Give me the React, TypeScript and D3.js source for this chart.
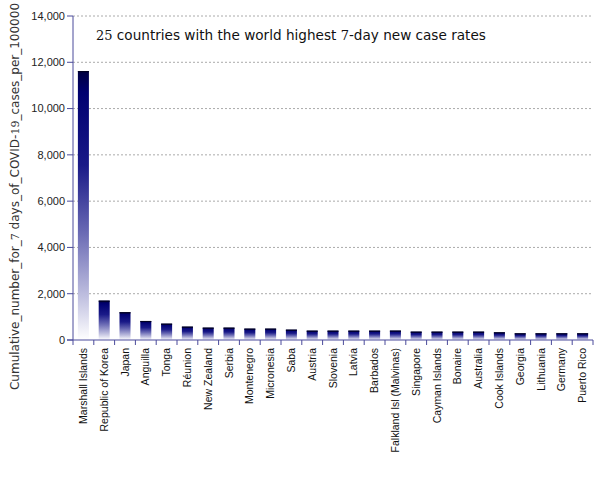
import React from "react";
import * as d3 from "d3";

const countries = [
  "Marshall Islands", "Republic of Korea", "Japan", "Anguilla", "Tonga", "Réunion",
  "New Zealand", "Serbia", "Montenegro", "Micronesia", "Saba", "Austria", "Slovenia",
  "Latvia", "Barbados", "Falkland Isl (Malvinas)", "Singapore", "Cayman Islands",
  "Bonaire", "Australia", "Cook Islands", "Georgia", "Lithuania", "Germany", "Puerto Rico",
];
const values = [
  11620, 1700, 1200, 820, 705, 576, 533, 533, 490, 490, 446, 403, 403,
  403, 403, 405, 360, 360, 360, 360, 331, 288, 288, 288, 288,
];
const yTicks = [0, 2000, 4000, 6000, 8000, 10000, 12000, 14000];

const W = 605, H = 480;
const left = 73, right = 593, top = 16, bottom = 340;

export default function App() {
  const x = d3.scaleBand<string>().domain(countries).range([left, right]).paddingInner(0.47).paddingOuter(0.235);
  const xb = d3.scaleBand<string>().domain(countries).range([left, right]);
  const y = d3.scaleLinear().domain([0, 14000]).range([bottom, top]);
  const fmt = d3.format(",");
  const axisColor = "#4b4b9b";
  return (
    <svg width={W} height={H} style={{ position: "absolute", left: 0, top: 0, background: "#fff" }}>
      <defs>
        <linearGradient id="barGrad" x1="0" y1="0" x2="0" y2="1">
          <stop offset="0" stopColor="#000040" />
          <stop offset="0.08" stopColor="#000070" />
          <stop offset="0.35" stopColor="#1a1a88" />
          <stop offset="0.6" stopColor="#6a6ab4" />
          <stop offset="0.85" stopColor="#c4c4e2" />
          <stop offset="1" stopColor="#ffffff" />
        </linearGradient>
      </defs>
      {yTicks.map((t) => (
        <g key={t}>
          {t > 0 && (
            <line x1={left} x2={right} y1={y(t)} y2={y(t)} stroke="#aaa" strokeWidth={1} strokeDasharray="2,2" />
          )}
          <line x1={left - 6} x2={left} y1={y(t)} y2={y(t)} stroke={axisColor} />
          <text x={left - 8} y={y(t)} dy="0.35em" textAnchor="end" fontFamily="'Liberation Sans', Arial, sans-serif" fontSize={11} fill="#222">
            {fmt(t)}
          </text>
        </g>
      ))}
      {countries.map((c, i) => (
        <g key={c}>
          <rect x={x(c)} y={y(values[i])} width={x.bandwidth()} height={bottom - y(values[i])} fill="url(#barGrad)" />
          <line x1={x(c)} x2={(x(c) as number) + x.bandwidth()} y1={y(values[i]) + 0.5} y2={y(values[i]) + 0.5} stroke="#000022" strokeWidth={1.2} />
          <text
            transform={`translate(${(x(c) as number) + x.bandwidth() / 2 + 3.5},${bottom + 8}) rotate(-90)`}
            textAnchor="end"
            fontFamily="'Liberation Sans', Arial, sans-serif"
            fontSize={10.5}
            fill="#111"
          >
            {c}
          </text>
        </g>
      ))}
      {countries.map((c) => (
        <line key={"t" + c} x1={xb(c)} x2={xb(c)} y1={bottom} y2={bottom + 5} stroke={axisColor} />
      ))}
      <line x1={right} x2={right} y1={bottom} y2={bottom + 5} stroke={axisColor} />
      <line x1={left} x2={left} y1={top} y2={bottom} stroke={axisColor} />
      <line x1={left - 6} x2={right} y1={bottom} y2={bottom} stroke={axisColor} />
      <text
        transform={`translate(19,${(8 + 385) / 2}) rotate(-90)`}
        textAnchor="middle"
        fontFamily="'DejaVu Sans', sans-serif"
        fontSize={12}
        fill="#333"
      >
        Cumulative_number_for_<tspan fontFamily="'DejaVu Serif', serif" fontSize={11}>7</tspan> days_of_COVID-<tspan fontFamily="'DejaVu Serif', serif" fontSize={11}>19</tspan>_cases_per_100000
      </text>
      <text x={96} y={40} fontFamily="'DejaVu Sans', sans-serif" fontSize={13.6} fill="#111">
        <tspan fontFamily="'DejaVu Serif', serif" fontSize={13}>25</tspan> countries with the world highest <tspan fontFamily="'DejaVu Serif', serif" fontSize={13}>7</tspan>-day new case rates
      </text>
    </svg>
  );
}
